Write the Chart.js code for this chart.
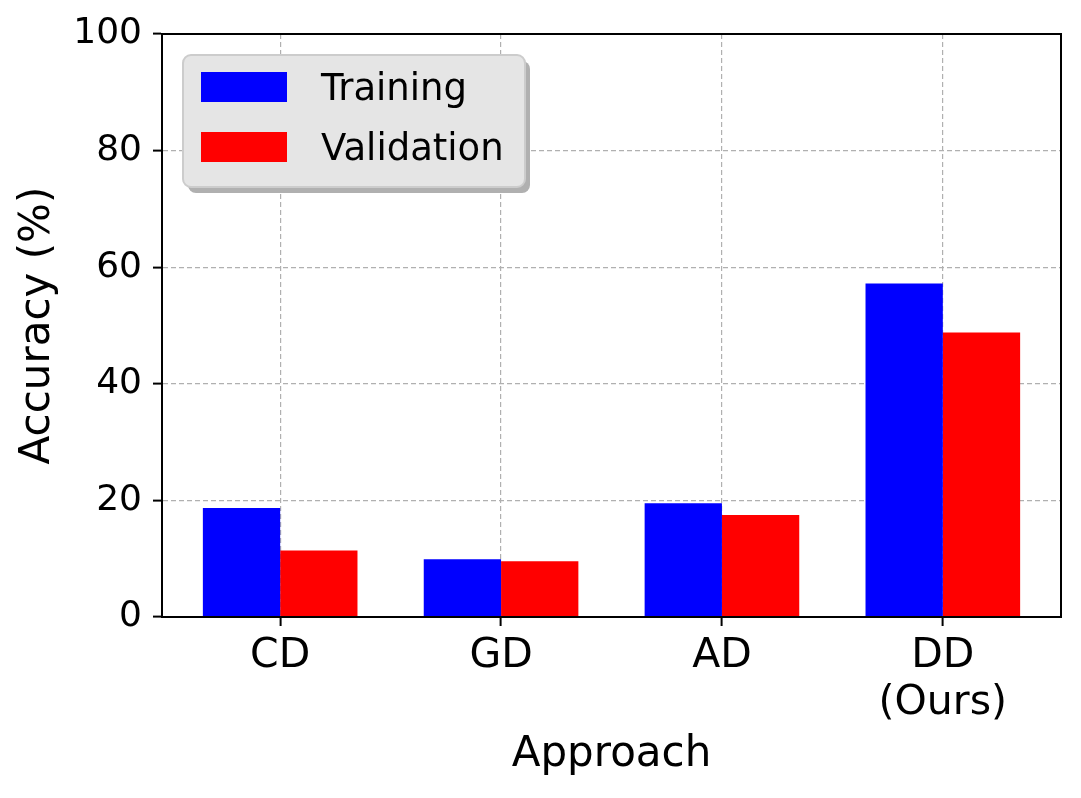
<!DOCTYPE html>
<html lang="en">
<head>
  <meta charset="UTF-8">
  <title>Accuracy by Approach</title>
  <script src="https://cdn.jsdelivr.net/npm/chart.js"></script>
  <style>
    body {
      margin: 0;
      background-color: white;
    }
    #wrap {
      width: 1081px;
      height: 798px;
    }
  </style>
</head>
<body>
  <div id="wrap">
    <canvas id="accChart" width="1081" height="798"></canvas>
  </div>

  <script>
    // Data
    const approaches = ['CD', 'GD', 'AD', ['DD', '(Ours)']];
    const training = [18.7, 9.9, 19.5, 57.2];
    const validation = [11.4, 9.55, 17.5, 48.8];
    const yTicks = [0, 20, 40, 60, 80, 100];

    const font = 'DejaVu Sans';

    // top + right spines
    const frame = {
      id: 'frame',
      afterDatasetsDraw(chart) {
        const { ctx, chartArea: a } = chart;
        ctx.save();
        ctx.strokeStyle = '#000';
        ctx.lineWidth = 2;
        ctx.strokeRect(a.left, a.top, a.right - a.left, a.bottom - a.top);
        ctx.restore();
      }
    };

    function roundRect(ctx, x, y, w, h, r) {
      ctx.beginPath();
      ctx.moveTo(x + r, y);
      ctx.arcTo(x + w, y, x + w, y + h, r);
      ctx.arcTo(x + w, y + h, x, y + h, r);
      ctx.arcTo(x, y + h, x, y, r);
      ctx.arcTo(x, y, x + w, y, r);
      ctx.closePath();
    }

    // matplotlib-style legend with shadow
    const legendBox = {
      id: 'legendBox',
      afterDraw(chart) {
        const { ctx, chartArea: a } = chart;
        const x = a.left + 21, y = a.top + 21, w = 342, h = 132;
        ctx.save();
        ctx.fillStyle = '#b0b0b0';
        roundRect(ctx, x + 5, y + 6, w, h, 8);
        ctx.fill();
        ctx.fillStyle = '#e5e5e5';
        ctx.strokeStyle = '#cccccc';
        ctx.lineWidth = 2;
        roundRect(ctx, x, y, w, h, 8);
        ctx.fill();
        ctx.stroke();
        ctx.font = '37px "' + font + '"';
        ctx.textBaseline = 'middle';
        chart.data.datasets.forEach((ds, i) => {
          const ry = y + 17 + i * 60;
          ctx.fillStyle = ds.backgroundColor;
          ctx.fillRect(x + 18, ry, 86, 30);
          ctx.fillStyle = '#000';
          ctx.fillText(ds.label, x + 138, ry + 18);
        });
        ctx.restore();
      }
    };

    const gridStyle = {
      offset: false,
      color: '#b0b0b0',
      lineWidth: 1.2,
      tickLength: 9,
      tickColor: '#000',
      tickWidth: 2
    };

    new Chart(document.getElementById('accChart'), {
      type: 'bar',
      data: {
        datasets: [
          { label: 'Training', data: training.map((v, i) => ({ x: i, y: v })), backgroundColor: '#0000ff', borderWidth: 0 },
          { label: 'Validation', data: validation.map((v, i) => ({ x: i, y: v })), backgroundColor: '#ff0000', borderWidth: 0 }
        ]
      },
      options: {
        responsive: false,
        animation: false,
        devicePixelRatio: 1,
        categoryPercentage: 0.7,
        barPercentage: 1.0,
        layout: { padding: { top: 34, right: 20, left: 0, bottom: 0 } },
        plugins: {
          legend: { display: false },
          tooltip: { enabled: false }
        },
        scales: {
          x: {
            type: 'linear',
            offset: false,
            min: -0.535,
            max: 3.535,
            afterFit: s => { s.height = 181; },
            afterBuildTicks: s => { s.ticks = approaches.map((_, i) => ({ value: i })); },
            grid: gridStyle,
            border: { display: true, color: '#000', width: 2, dash: [5, 3] },
            ticks: {
              color: '#000',
              padding: 7,
              maxRotation: 0,
              autoSkip: false,
              callback: v => approaches[v],
              font: { family: font, size: 41, lineHeight: 1.15 }
            },
            title: {
              display: true,
              text: 'Approach',
              color: '#000',
              font: { family: font, size: 42 },
              padding: { top: 0, bottom: 18 }
            }
          },
          y: {
            min: 0,
            max: 100,
            afterFit: s => { s.width = 162; },
            afterBuildTicks: s => { s.ticks = yTicks.map(v => ({ value: v })); },
            grid: gridStyle,
            border: { display: true, color: '#000', width: 2, dash: [5, 3] },
            ticks: {
              color: '#000',
              padding: 11,
              font: { family: font, size: 36 }
            },
            title: {
              display: true,
              text: 'Accuracy (%)',
              color: '#000',
              font: { family: font, size: 42 },
              padding: { top: 13, bottom: 0 }
            }
          }
        }
      },
      plugins: [frame, legendBox]
    });
  </script>
</body>
</html>
